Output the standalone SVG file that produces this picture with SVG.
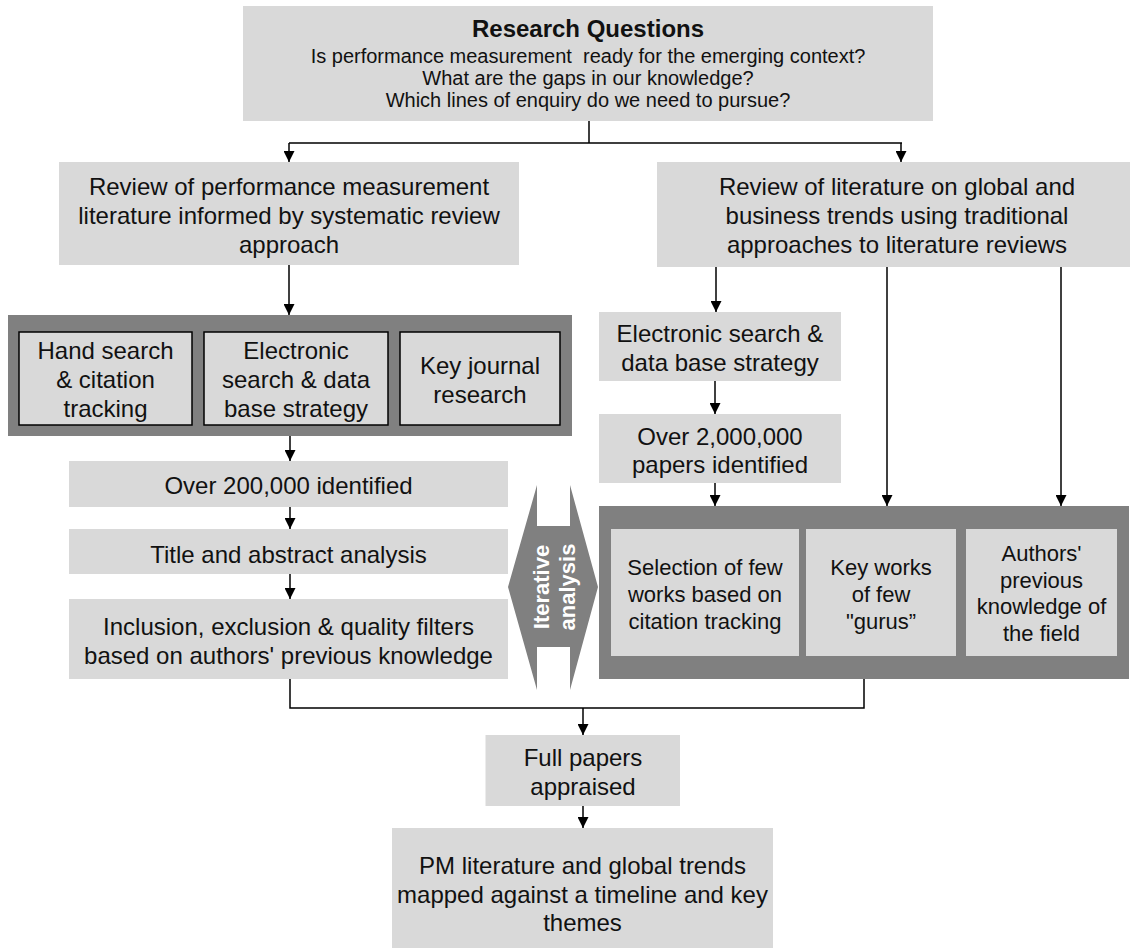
<svg xmlns="http://www.w3.org/2000/svg" width="1132" height="952" viewBox="0 0 1132 952">
<defs>
<style>
.box{fill:#d9d9d9;}
.dark{fill:#808080;}
.inner{fill:#d9d9d9;stroke:#000;stroke-width:1.5;}
text{font-family:"Liberation Sans",Arial,sans-serif;fill:#111;text-anchor:middle;}
.t24{font-size:24px;}
.t22{font-size:22px;}
.t20{font-size:20px;}
.title{font-size:24px;font-weight:bold;}
.iter{font-size:22px;font-weight:bold;fill:#fff;}
.conn{fill:none;stroke:#000;stroke-width:1.5;}
</style>
<marker id="ah" viewBox="0 0 10 10" refX="10" refY="5" markerWidth="12" markerHeight="11" markerUnits="userSpaceOnUse" orient="auto">
<path d="M0,0 L10,5 L0,10 z" fill="#000"/>
</marker>
</defs>
<rect width="1132" height="952" fill="#fff"/>

<g id="connectors">
<path class="conn" d="M589,121 V143 M289,143 H902"/>
<path class="conn" d="M289,143 V162" marker-end="url(#ah)"/>
<path class="conn" d="M901,143 V162" marker-end="url(#ah)"/>
<path class="conn" d="M289,265 V315" marker-end="url(#ah)"/>
<path class="conn" d="M716,267 V312" marker-end="url(#ah)"/>
<path class="conn" d="M887,267 V506" marker-end="url(#ah)"/>
<path class="conn" d="M1061,267 V506" marker-end="url(#ah)"/>
<path class="conn" d="M290,436 V461" marker-end="url(#ah)"/>
<path class="conn" d="M290,507 V529" marker-end="url(#ah)"/>
<path class="conn" d="M290,574 V599" marker-end="url(#ah)"/>
<path class="conn" d="M715,381 V414" marker-end="url(#ah)"/>
<path class="conn" d="M715,483 V506" marker-end="url(#ah)"/>
<path class="conn" d="M290,679 V708 H864 V679"/>
<path class="conn" d="M583,708 V735" marker-end="url(#ah)"/>
<path class="conn" d="M583,806 V828" marker-end="url(#ah)"/>
</g>

<g id="research-questions">
<rect class="box" x="243" y="6" width="690" height="115"/>
<text class="title" x="588" y="37">Research Questions</text>
<text class="t20" x="588" y="63" xml:space="preserve">Is performance measurement  ready for the emerging context?</text>
<text class="t20" x="588" y="85">What are the gaps in our knowledge?</text>
<text class="t20" x="588" y="107">Which lines of enquiry do we need to pursue?</text>
</g>

<g id="review-pm">
<rect class="box" x="59" y="162" width="460" height="103"/>
<text class="t24" x="289" y="195">Review of performance measurement</text>
<text class="t24" x="289" y="224">literature informed by systematic review</text>
<text class="t24" x="289" y="253">approach</text>
</g>

<g id="review-global">
<rect class="box" x="657" y="162" width="473" height="105"/>
<text class="t24" x="897" y="195">Review of literature on global and</text>
<text class="t24" x="897" y="224">business trends using traditional</text>
<text class="t24" x="897" y="253">approaches to literature reviews</text>
</g>

<g id="search-methods">
<rect class="dark" x="8" y="315" width="564" height="121"/>
<g id="hand-search">
<rect class="inner" x="19" y="332" width="173" height="93"/>
<text class="t24" x="105.5" y="359">Hand search</text>
<text class="t24" x="105.5" y="388">&amp; citation</text>
<text class="t24" x="105.5" y="417">tracking</text>
</g>
<g id="electronic-search-left">
<rect class="inner" x="204" y="332" width="184" height="93"/>
<text class="t24" x="296" y="359">Electronic</text>
<text class="t24" x="296" y="388">search &amp; data</text>
<text class="t24" x="296" y="417">base strategy</text>
</g>
<g id="key-journal">
<rect class="inner" x="400" y="332" width="160" height="93"/>
<text class="t24" x="480" y="374">Key journal</text>
<text class="t24" x="480" y="403">research</text>
</g>
</g>

<g id="over-200000">
<rect class="box" x="69" y="461" width="439" height="46"/>
<text class="t24" x="288.5" y="494">Over 200,000 identified</text>
</g>

<g id="title-abstract">
<rect class="box" x="69" y="529" width="439" height="45"/>
<text class="t24" x="288.5" y="563">Title and abstract analysis</text>
</g>

<g id="filters">
<rect class="box" x="69" y="599" width="439" height="80"/>
<text class="t24" x="288.5" y="635">Inclusion, exclusion &amp; quality filters</text>
<text class="t24" x="288.5" y="664">based on authors' previous knowledge</text>
</g>

<g id="electronic-search-right">
<rect class="box" x="599" y="312" width="242" height="69"/>
<text class="t24" x="720" y="342">Electronic search &amp;</text>
<text class="t24" x="720" y="371">data base strategy</text>
</g>

<g id="over-2000000">
<rect class="box" x="599" y="414" width="242" height="69"/>
<text class="t24" x="720" y="445">Over 2,000,000</text>
<text class="t24" x="720" y="473">papers identified</text>
</g>

<g id="selection-methods">
<rect class="dark" x="599" y="506" width="530" height="173"/>
<g id="selection-few">
<rect class="box" x="611" y="529" width="188" height="127"/>
<text class="t22" x="705" y="575">Selection of few</text>
<text class="t22" x="705" y="602">works based on</text>
<text class="t22" x="705" y="629">citation tracking</text>
</g>
<g id="key-works">
<rect class="box" x="806" y="529" width="150" height="127"/>
<text class="t22" x="881" y="575">Key works</text>
<text class="t22" x="881" y="602">of few</text>
<text class="t22" x="881" y="629">"gurus”</text>
</g>
<g id="authors-knowledge">
<rect class="box" x="966" y="529" width="151" height="127"/>
<text class="t22" x="1041.5" y="561">Authors'</text>
<text class="t22" x="1041.5" y="588">previous</text>
<text class="t22" x="1041.5" y="614">knowledge of</text>
<text class="t22" x="1041.5" y="641">the field</text>
</g>
</g>

<g id="iterative-analysis">
<polygon class="dark" points="537,485 537,526 570,526 570,485 598,587 570,690 570,647 537,647 537,690 508,587"/>
<text class="iter" transform="translate(549,587) rotate(-90)"><tspan x="0" y="0">Iterative</tspan><tspan x="0" y="26.4">analysis</tspan></text>
</g>

<g id="full-papers">
<rect class="box" x="485.5" y="735" width="194.5" height="71"/>
<text class="t24" x="583" y="766">Full papers</text>
<text class="t24" x="583" y="795">appraised</text>
</g>

<g id="pm-mapped">
<rect class="box" x="392" y="828" width="381" height="120"/>
<text class="t24" x="582.5" y="874">PM literature and global trends</text>
<text class="t24" x="582.5" y="903">mapped against a timeline and key</text>
<text class="t24" x="582.5" y="931">themes</text>
</g>
</svg>
